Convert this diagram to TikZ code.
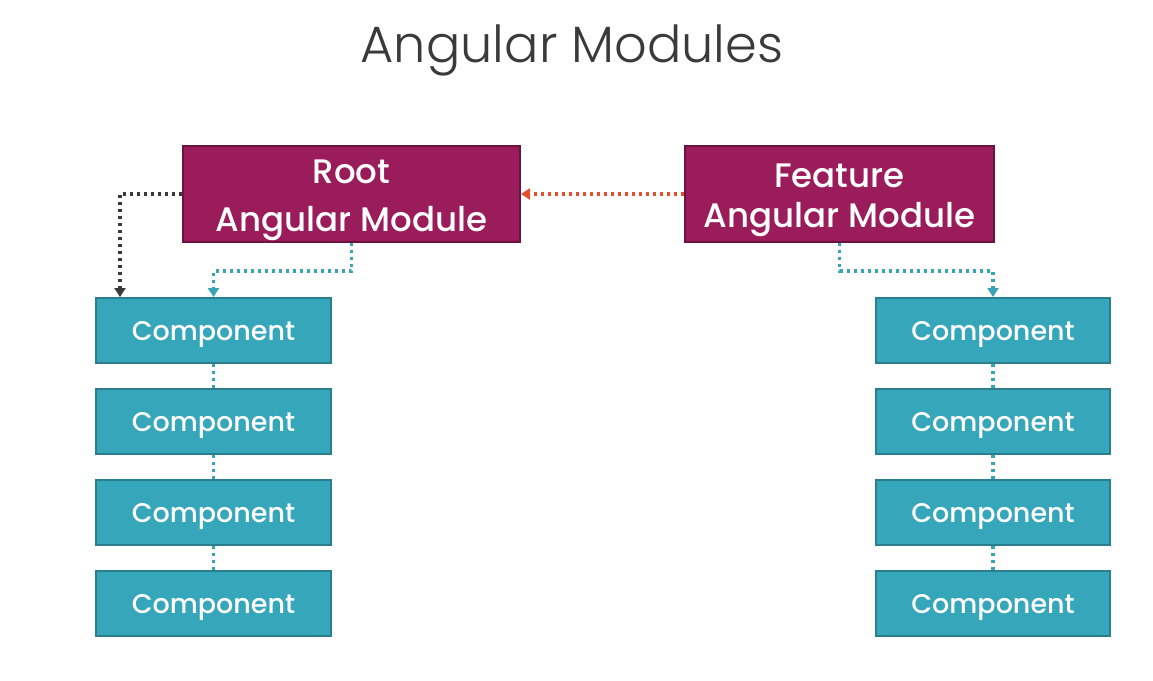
\documentclass[tikz,border=0pt]{standalone}
\usepackage{fontspec}
\setmainfont{Poppins}
\newfontfamily\titlefont{Poppins Light}
\newfontfamily\boxfont{Poppins Medium}
\usetikzlibrary{arrows.meta}
\definecolor{magfill}{HTML}{9B1C5A}
\definecolor{magline}{HTML}{6B1240}
\definecolor{tealfill}{HTML}{36A6BB}
\definecolor{tealline}{HTML}{2A7E8E}
\definecolor{tealdot}{HTML}{3AA3B5}
\definecolor{darkdot}{HTML}{3A3A3A}
\definecolor{reddot}{HTML}{E0502F}
\definecolor{titlegray}{HTML}{3A3A3A}
\tikzset{
  modbox/.style={draw=magline, fill=magfill, line width=2pt, text=white, align=center,
    inner sep=0pt},
  compbox/.style={draw=tealline, fill=tealfill, line width=2pt, text=white,
    minimum width=235pt, minimum height=65pt, inner sep=0pt,
    text height=19pt, text depth=0pt,
    font=\boxfont\fontsize{27}{30}\selectfont},
  dotline/.style={line width=3.2pt, dash pattern=on 3pt off 4pt},
  tip/.style={-{Triangle[width=11pt,length=9pt]}},
}
\begin{document}
\begin{tikzpicture}[x=1pt,y=-1pt]
\useasboundingbox[fill=white] (0,0) rectangle (1153,680);
\node[font=\titlefont\fontsize{51}{56}\selectfont, text=titlegray] (title) at (572,50) {Angular Modules};

\node[modbox, minimum width=337pt, minimum height=96pt, font=\boxfont\fontsize{34}{48}\selectfont] (root) at (351.5,194) {\rule{0pt}{36pt}Root\\Angular Module};
\node[modbox, minimum width=309pt, minimum height=96pt, font=\boxfont\fontsize{34}{40}\selectfont] (feat) at (839.5,194) {\rule{0pt}{36pt}Feature\\Angular Module};

\foreach \i/\y in {1/330.5,2/421.5,3/512.5,4/603.5}{
  \node[compbox] (l\i) at (213.5,\y) {Component};
  \node[compbox, minimum width=234pt] (r\i) at (993,\y) {Component};
}

\draw[dotline, darkdot, tip] (root.west) -| ([xshift=25pt]l1.north west);
\draw[dotline, tealdot, tip] (root.south) -- ++(0,28) -| (l1.north);
\draw[dotline, reddot, tip] (feat.west) -- (root.east);
\draw[dotline, tealdot, tip] (feat.south) -- ++(0,28) -| (r1.north);

\foreach \a/\b in {1/2,2/3,3/4}{
  \draw[dotline, tealdot] (l\a.south) -- (l\b.north);
  \draw[dotline, tealdot] (r\a.south) -- (r\b.north);
}
\end{tikzpicture}
\end{document}
